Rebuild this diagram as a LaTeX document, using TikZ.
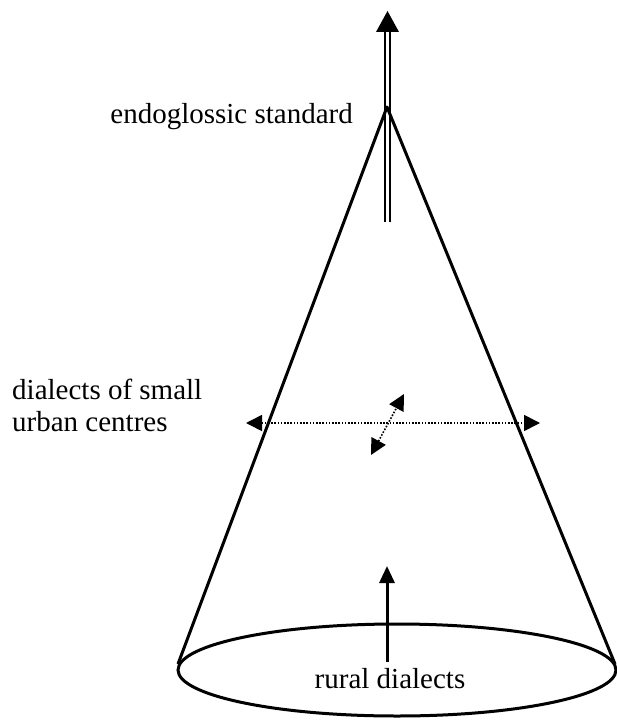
\documentclass[tikz,border=0pt]{standalone}
\usepackage{fontspec}
\setmainfont{Liberation Serif}
\usetikzlibrary{arrows.meta}
\tikzset{
  conel/.style={line width=3pt, line join=round},
  lbl/.style={inner sep=0pt, font=\fontsize{29}{32}\selectfont},
  dots/.style={line width=1.6pt, dash pattern=on 1.6pt off 1.6pt},
  tipd/.tip={Triangle[length=16pt,width=16pt]},
}
\begin{document}
\begin{tikzpicture}[x=1pt,y=-1pt]
\useasboundingbox (0,0) rectangle (617,722);
% coordinates
\coordinate (apex) at (387,107);
\coordinate (cl) at (178,664);
\coordinate (cr) at (615,664);
\coordinate (dblbot) at (387.5,222);
\coordinate (dblbase) at (387.5,32);
\coordinate (dbltip) at (387.5,11);
\coordinate (hl) at (246,423);
\coordinate (hr) at (540,423);
\coordinate (dgb) at (371,455);
\coordinate (dgt) at (404,394);
\coordinate (upb) at (387,662);
\coordinate (upt) at (387,566);
% double arrow
\draw[line width=2.3pt, double, double distance=2.6pt] (dblbot) -- (dblbase);
\fill (dbltip) -- ([xshift=-11.5pt]dblbase) -- ([xshift=11.5pt]dblbase) -- cycle;
% cone
\draw[conel] (cl) -- (apex) -- (cr);
\draw[line width=3pt] (397,670) ellipse [x radius=219, y radius=46];
% dotted arrows
\draw[dots, tipd-tipd] (hl) -- (hr);
\draw[dots, tipd-tipd] (dgb) -- (dgt);
% up arrow
\draw[line width=3pt, -{Triangle[length=17pt,width=15pt]}] (upb) -- (upt);
% labels
\node[lbl, anchor=base east] (std) at (353,124) {endoglossic standard};
\node[lbl, anchor=base west, align=left] (urb) at (12,431) {dialects of small\\urban centres};
\node[lbl, anchor=base] (rur) at (390,688) {rural dialects};
\end{tikzpicture}
\end{document}
